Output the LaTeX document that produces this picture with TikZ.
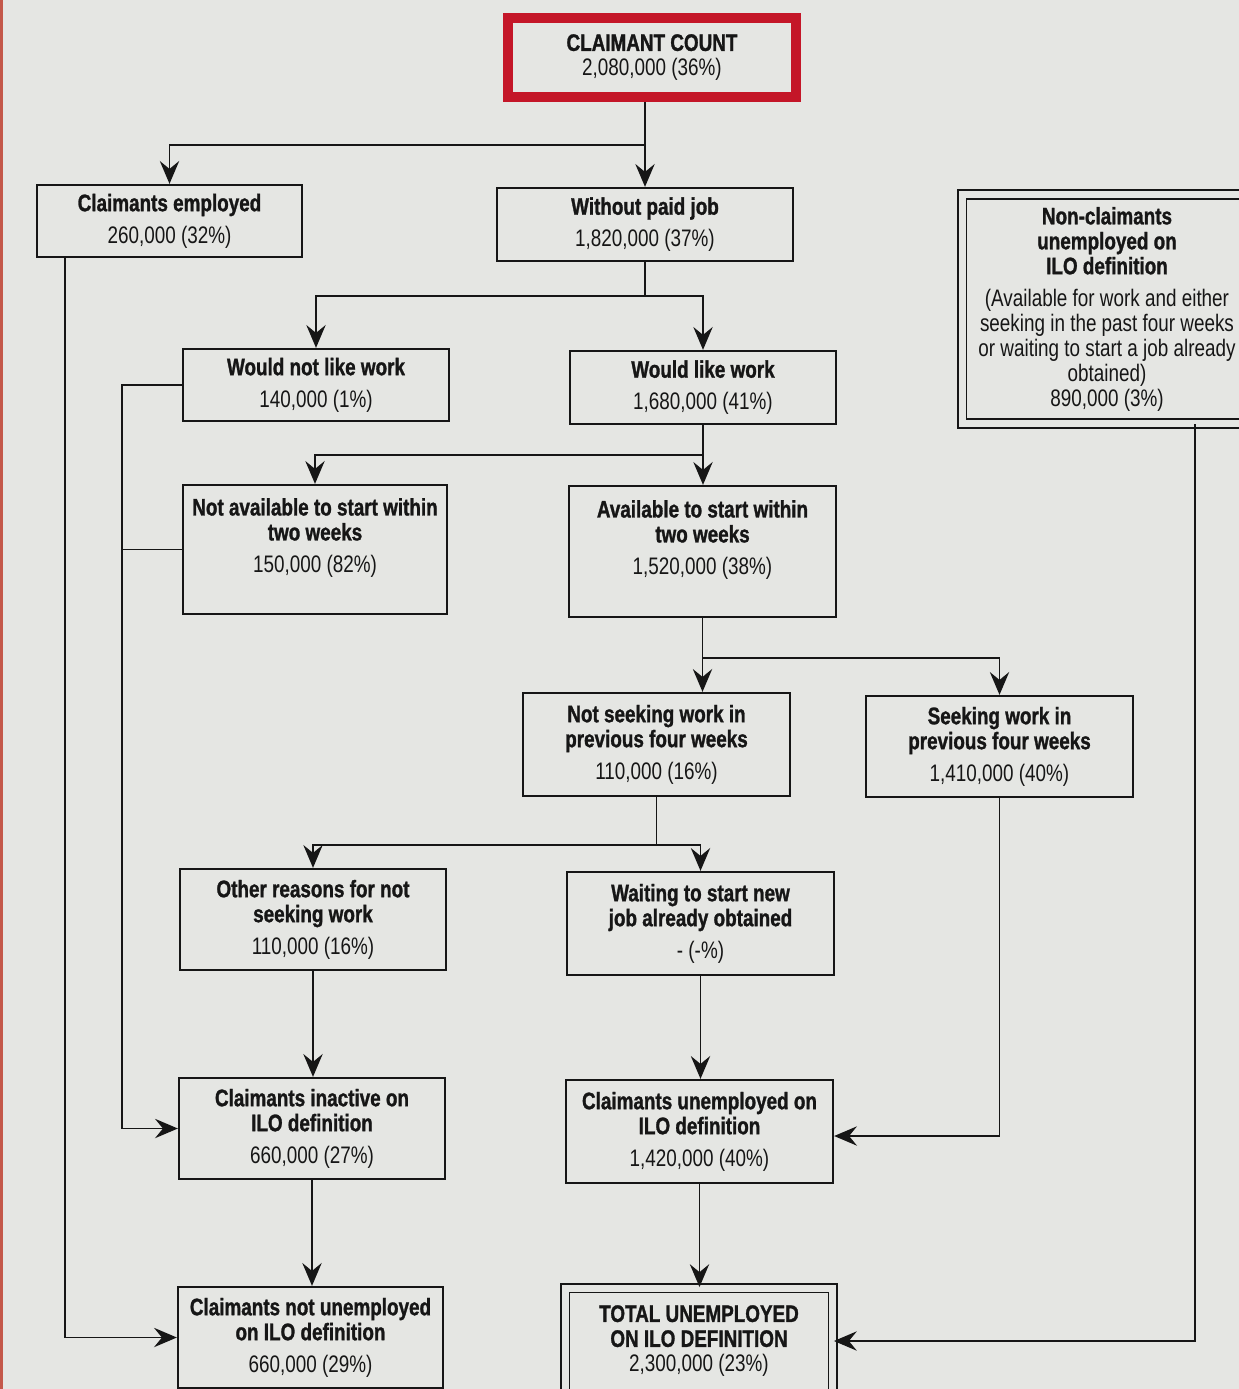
\documentclass[tikz,border=0pt]{standalone}
\usepackage{fontspec}
\setmainfont{Liberation Sans}[FakeStretch=0.79, BoldFeatures={FakeBold=1.2}]
\usetikzlibrary{arrows.meta,positioning}
\definecolor{paper}{RGB}{229,230,227}
\definecolor{claimRed}{RGB}{196,22,40}
\definecolor{edgeRed}{RGB}{196,88,74}
\definecolor{ink}{RGB}{22,22,22}

\begin{document}
\begin{tikzpicture}[x=0.02cm, y=-0.02cm,
  flowbox/.style={draw=ink, line width=1.3pt, fill=paper, align=center,
    inner sep=0pt, text=ink, font=\fontsize{13.6}{14.2}\selectfont},
  redbox/.style={flowbox, draw=claimRed, line width=5.6pt},
  dblbox/.style={flowbox, line width=1.1pt, double=paper, double distance=4pt},
  link/.style={draw=ink, line width=1.1pt},
  arr/.style={link, -{Stealth[length=13pt, width=11pt, inset=4.5pt]}}]

  % page
  \fill[paper] (0,0) rectangle (1239,1389);
  \fill[edgeRed] (0,0) rectangle (3,1389);
  \useasboundingbox (0,0) rectangle (1239,1389);

  % top
  \node[redbox, minimum width=5.76cm, minimum height=1.58cm] (cc) at (652,57.5)
    {\textbf{CLAIMANT COUNT}\\2,080,000 (36\%)};
  \node[flowbox, minimum width=5.3cm, minimum height=1.44cm] (emp) at (169.5,221)
    {\textbf{Claimants employed}\\[4pt]260,000 (32\%)};
  \node[flowbox, minimum width=5.92cm, minimum height=1.46cm] (nopay) at (645,224.5)
    {\textbf{Without paid job}\\[4pt]1,820,000 (37\%)};
  \node[dblbox, minimum width=5.8cm, minimum height=4.58cm] (noncl) at (1107,309)
    {\textbf{Non-claimants}\\\textbf{unemployed on}\\\textbf{ILO definition}\\[4pt]
     (Available for work and either\\seeking in the past four weeks\\
     or waiting to start a job already\\obtained)\\890,000 (3\%)};

  % would / would not like work
  \node[flowbox, minimum width=5.32cm, minimum height=1.44cm] (notlike) at (316,385)
    {\textbf{Would not like work}\\[4pt]140,000 (1\%)};
  \node[flowbox, minimum width=5.32cm, minimum height=1.46cm] (like) at (703,387.5)
    {\textbf{Would like work}\\[4pt]1,680,000 (41\%)};

  % availability
  \node[flowbox, minimum width=5.28cm, minimum height=2.58cm] (notavail) at (315,549.5)
    {\textbf{Not available to start within}\\\textbf{two weeks}\\[4pt]150,000 (82\%)\\[2pt]\mbox{}};
  \node[flowbox, minimum width=5.34cm, minimum height=2.62cm] (avail) at (702.5,551.5)
    {\textbf{Available to start within}\\\textbf{two weeks}\\[4pt]1,520,000 (38\%)\\[2pt]\mbox{}};

  % seeking
  \node[flowbox, minimum width=5.34cm, minimum height=2.06cm] (notseek) at (656.5,744.5)
    {\textbf{Not seeking work in}\\\textbf{previous four weeks}\\[4pt]110,000 (16\%)};
  \node[flowbox, minimum width=5.34cm, minimum height=2.02cm] (seek) at (999.5,746.5)
    {\textbf{Seeking work in}\\\textbf{previous four weeks}\\[4pt]1,410,000 (40\%)};

  \node[flowbox, minimum width=5.32cm, minimum height=2.02cm] (other) at (313,919.5)
    {\textbf{Other reasons for not}\\\textbf{seeking work}\\[4pt]110,000 (16\%)};
  \node[flowbox, minimum width=5.34cm, minimum height=2.06cm] (wait) at (700.5,923.5)
    {\textbf{Waiting to start new}\\\textbf{job already obtained}\\[4pt]- (-\%)};

  % ILO outcome
  \node[flowbox, minimum width=5.32cm, minimum height=2.02cm] (inact) at (312,1128.5)
    {\textbf{Claimants inactive on}\\\textbf{ILO definition}\\[4pt]660,000 (27\%)};
  \node[flowbox, minimum width=5.34cm, minimum height=2.06cm] (unemp) at (699.5,1131.5)
    {\textbf{Claimants unemployed on}\\\textbf{ILO definition}\\[4pt]1,420,000 (40\%)};
  \node[flowbox, minimum width=5.3cm, minimum height=2.02cm] (notunemp) at (310.5,1337.5)
    {\textbf{Claimants not unemployed}\\\textbf{on ILO definition}\\[4pt]660,000 (29\%)};
  \node[dblbox, minimum width=5.36cm, minimum height=2.12cm] (total) at (699,1341)
    {\textbf{TOTAL UNEMPLOYED}\\\textbf{ON ILO DEFINITION}\\2,300,000 (23\%)};

  % splits
  \coordinate (j1) at (645,145);
  \coordinate (j2) at (645,296);
  \coordinate (j3) at (703,455);
  \coordinate (j4) at (702.5,658);
  \coordinate (j5) at (656.5,845);

  \draw[arr] (cc.south -| nopay.north) -- (nopay.north);
  \draw[arr] (j1) -| (emp.north);

  \draw[link] (nopay.south) -- (j2);
  \draw[arr] (j2) -| (notlike.north);
  \draw[arr] (j2) -| (like.north);

  \draw[arr] (like.south) -- (like.south |- avail.north);
  \draw[arr] (j3) -| (notavail.north);

  \draw[arr] (avail.south) -- (avail.south |- notseek.north);
  \draw[arr] (j4) -| (seek.north);

  \draw[link] (notseek.south) -- (j5);
  \draw[arr] (j5) -| (other.north);
  \draw[arr] (j5) -| (wait.north);

  \draw[arr] (other.south) -- (other.south |- inact.north);
  \draw[arr] (inact.south) -- (inact.south |- notunemp.north);
  \draw[arr] (wait.south) -- (wait.south |- unemp.north);
  \draw[arr] (unemp.south) -- (unemp.south |- total.north);

  % side routes
  \draw[arr] (notlike.west) -- ++(-60,0) |- (inact.west);
  \draw[link] (notavail.west) -- ++(-60,0);
  \draw[arr] ([xshift=0.58cm]emp.south west) |- (notunemp.west);
  \draw[arr] (seek.south) |- ([yshift=-0.09cm]unemp.east);
  \draw[arr] ([xshift=1.76cm]noncl.south) |- (total.east);
\end{tikzpicture}
\end{document}
